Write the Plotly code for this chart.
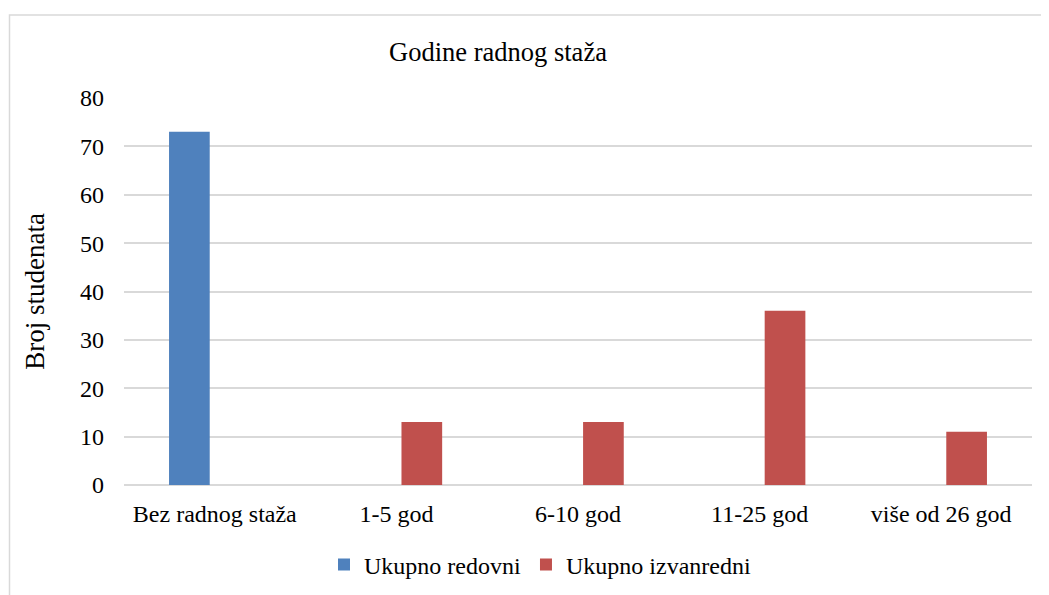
import plotly.graph_objects as go

categories = ["Bez radnog staža", "1-5 god", "6-10 god", "11-25 god", "više od 26 god"]
redovni = [73, 0, 0, 0, 0]
izvanredni = [0, 13, 13, 36, 11]
y_ticks = [0, 10, 20, 30, 40, 50, 60, 70, 80]

FONT = "Liberation Serif, Times New Roman, serif"

fig = go.Figure()
fig.add_trace(go.Bar(x=categories, y=redovni, name="Ukupno redovni",
                     marker=dict(color="#4f81bd", line=dict(width=0))))
fig.add_trace(go.Bar(x=categories, y=izvanredni, name="Ukupno izvanredni",
                     marker=dict(color="#c0504d", line=dict(width=0))))

# page renders with an 8px body offset
OFF = 8
W, H = 1049 - OFF, 595 - OFF
L, T = 124 - OFF, 98 - OFF
R = W - (1032 - OFF)
B = H - (485 - OFF)
pw, ph = W - L - R, H - T - B

def px_x(x):
    return (x - OFF - L) / pw

def px_y(y):
    return (H - B - (y - OFF)) / ph

fig.update_layout(
    width=W, height=H,
    margin=dict(l=L, r=R, t=T, b=B, pad=0, autoexpand=False),
    paper_bgcolor="white", plot_bgcolor="white",
    barmode="group", bargap=0.44, bargroupgap=0.2,
    font=dict(family=FONT, size=24, color="#000000"),
    title=dict(text="Godine radnog staža", x=(498 - OFF) / W, xanchor="center",
               y=1 - (52 - OFF) / H, yanchor="middle",
               font=dict(family=FONT, size=26.5, color="#000000")),
    legend=dict(orientation="h", x=px_x(540),
                xanchor="center", y=px_y(565), yanchor="middle", itemwidth=30,
                font=dict(family=FONT, size=24), traceorder="normal"),
    xaxis=dict(showgrid=False, showline=False, ticks="", tickfont=dict(family=FONT, size=24),
               ticklabelstandoff=12, automargin=False),
    yaxis=dict(range=[0, 80], tickvals=y_ticks, showgrid=True, gridcolor="#d9d9d9", gridwidth=1.5,
               zeroline=True, zerolinecolor="#d9d9d9", zerolinewidth=1.5,
               showline=False, ticks="", tickfont=dict(family=FONT, size=24),
               ticklabelstandoff=19, automargin=False,
               title=dict(text="Broj studenata", font=dict(family=FONT, size=27), standoff=27)),
    shapes=[dict(type="rect", xref="paper", yref="paper",
                 x0=px_x(9.5), x1=px_x(1048),
                 y0=px_y(610), y1=px_y(15),
                 line=dict(color="#d9d9d9", width=1.5), fillcolor="rgba(0,0,0,0)", layer="below")],
)

fig.write_html("out.html")
